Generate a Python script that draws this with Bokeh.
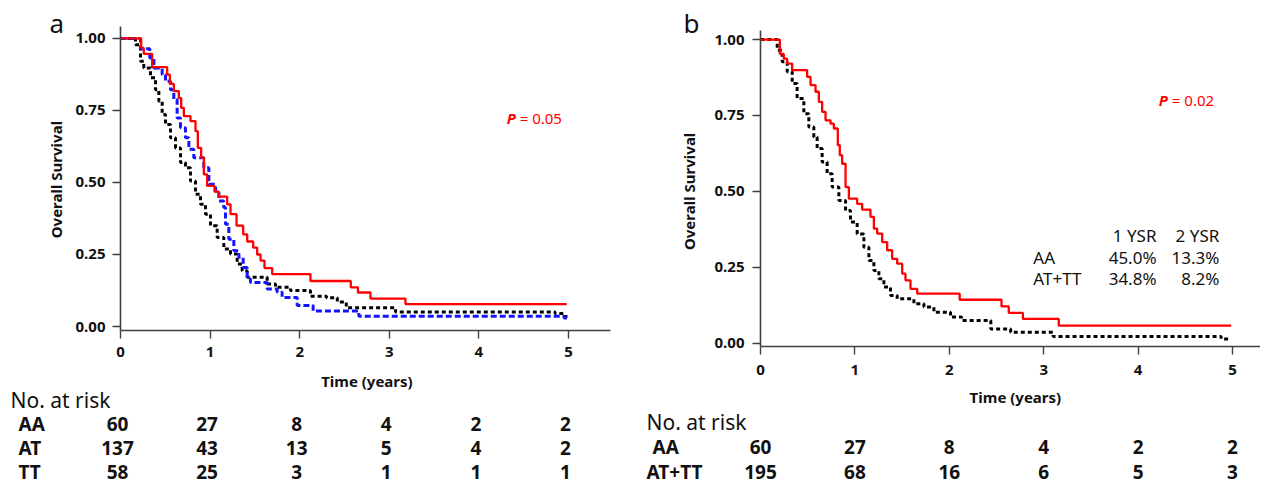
from math import pi
from bokeh.plotting import figure
from bokeh.layouts import row, column
from bokeh.models import (ColumnDataSource, Label, FixedTicker, NumeralTickFormatter, Range1d)
from bokeh.core.properties import value
from bokeh.embed import file_html
from bokeh.resources import INLINE

FONT = "Noto Sans"

# ---------------- Panel a data ----------------
a_aa_t = [0, 0.231, 0.260, 0.353, 0.521, 0.551, 0.595, 0.651, 0.677, 0.707, 0.781, 0.837,
          0.863, 0.900, 0.930, 0.967, 1.049, 1.097, 1.190, 1.228, 1.295, 1.369, 1.414, 1.481,
          1.525, 1.563, 1.607, 1.693, 2.12, 2.57, 2.65, 2.79, 3.18, 4.98]
a_aa_s = [1.0, 0.967, 0.946, 0.900, 0.874, 0.842, 0.817, 0.793, 0.759, 0.730, 0.713, 0.678,
          0.620, 0.586, 0.528, 0.488, 0.468, 0.451, 0.424, 0.390, 0.350, 0.320, 0.295, 0.274,
          0.250, 0.229, 0.203, 0.182, 0.158, 0.136, 0.118, 0.097, 0.078, 0.078]

a_at_t = [0, 0.223, 0.327, 0.372, 0.465, 0.502, 0.558, 0.595, 0.632, 0.670, 0.725, 0.763,
          0.818, 0.930, 0.986, 1.060, 1.098, 1.153, 1.172, 1.209, 1.265, 1.321, 1.369, 1.414,
          1.451, 1.637, 1.749, 1.804, 1.972, 2.15, 2.66, 4.95, 5.0]
a_at_s = [1.0, 0.964, 0.932, 0.897, 0.874, 0.851, 0.822, 0.788, 0.724, 0.690, 0.655, 0.615,
          0.586, 0.551, 0.494, 0.470, 0.436, 0.413, 0.355, 0.303, 0.263, 0.240, 0.205, 0.165,
          0.153, 0.130, 0.119, 0.101, 0.073, 0.054, 0.036, 0.030, 0.030]

a_tt_t = [0, 0.156, 0.167, 0.223, 0.260, 0.335, 0.391, 0.428, 0.465, 0.502, 0.558, 0.614,
          0.670, 0.725, 0.781, 0.837, 0.893, 0.949, 1.004, 1.079, 1.153, 1.228, 1.302, 1.358,
          1.414, 1.637, 1.730, 1.897, 2.12, 2.30, 2.42, 2.52, 3.07, 4.85, 4.95, 5.0]
a_tt_s = [1.0, 1.0, 0.978, 0.921, 0.897, 0.863, 0.822, 0.782, 0.736, 0.701, 0.655, 0.620,
          0.569, 0.551, 0.505, 0.459, 0.424, 0.390, 0.350, 0.309, 0.269, 0.252, 0.217, 0.194,
          0.171, 0.148, 0.136, 0.125, 0.105, 0.100, 0.085, 0.065, 0.050, 0.045, 0.035, 0.035]

a_risk_groups = ["AA", "AT", "TT"]
a_risk_times = [0, 1, 2, 3, 4, 5]
a_risk_AA = [60, 27, 8, 4, 2, 2]
a_risk_AT = [137, 43, 13, 5, 4, 2]
a_risk_TT = [58, 25, 3, 1, 1, 1]
a_pvalue = "= 0.05"

# ---------------- Panel b data ----------------
b_aa_t = [0, 0.205, 0.247, 0.282, 0.335, 0.494, 0.530, 0.583, 0.618, 0.653, 0.689, 0.742,
          0.777, 0.819, 0.840, 0.865, 0.901, 0.936, 1.024, 1.077, 1.165, 1.201, 1.236, 1.289,
          1.342, 1.395, 1.448, 1.501, 1.536, 1.589, 1.660, 2.11, 2.553, 2.63, 2.78, 3.16, 4.986]
b_aa_s = [1.0, 0.952, 0.937, 0.921, 0.899, 0.877, 0.850, 0.828, 0.795, 0.762, 0.734, 0.723,
          0.707, 0.652, 0.619, 0.591, 0.514, 0.476, 0.459, 0.440, 0.416, 0.377, 0.361, 0.333,
          0.306, 0.278, 0.262, 0.229, 0.207, 0.179, 0.163, 0.143, 0.121, 0.100, 0.080, 0.058,
          0.058]

b_att_t = [0, 0.141, 0.177, 0.230, 0.283, 0.336, 0.388, 0.459, 0.512, 0.565, 0.600, 0.653,
           0.706, 0.759, 0.830, 0.901, 0.953, 1.024, 1.095, 1.148, 1.201, 1.254, 1.307, 1.377,
           1.448, 1.625, 1.731, 1.837, 2.013, 2.13, 2.44, 2.65, 3.10, 4.88, 4.96]
b_att_s = [1.0, 1.0, 0.965, 0.927, 0.894, 0.855, 0.806, 0.756, 0.712, 0.679, 0.641, 0.597,
           0.558, 0.514, 0.470, 0.437, 0.399, 0.360, 0.316, 0.272, 0.239, 0.212, 0.185, 0.157,
           0.146, 0.130, 0.119, 0.102, 0.086, 0.075, 0.047, 0.036, 0.022, 0.014, 0.014]

b_risk_groups = ["AA", "AT+TT"]
b_risk_times = [0, 1, 2, 3, 4, 5]
b_risk_AA = [60, 27, 8, 4, 2, 2]
b_risk_ATTT = [195, 68, 16, 6, 5, 3]
b_pvalue = "= 0.02"

ysr_header = ["1 YSR", "2 YSR"]
ysr_groups = ["AA", "AT+TT"]
ysr_1y = ["45.0%", "34.8%"]
ysr_2y = ["13.3%", "8.2%"]

y_ticks = [0, 0.25, 0.5, 0.75, 1.0]
x_ticks = [0, 1, 2, 3, 4, 5]

RED = "#ff0000"
BLUE = "#1414ff"
BLACK = "#000000"
AXIS = "#404040"
TXT = "#111111"

TOTAL_H = 484
BOTTOM = 40
# panel a geometry (pixels)
A_SIDE, A_PLOT_W, A_BORDER_L = 70, 560, 50
A_FRAME_H = 330
A_PPY, A_PPU = 89.6, 289.0          # px per year, px per survival unit
A_YR = (-0.0138, 1 + 38 / A_PPU)    # frame 0..330
A_YB = (-0.0138, 1.0398)            # axis line extent
# panel b geometry
B_SIDE, B_PLOT_W, B_BORDER_L = 75, 555, 55
B_FRAME_H = 346
B_PPY, B_PPU = 94.4, 303.3
B_YR = (-0.0109, 1 + 39 / B_PPU)    # frame 0..346
B_YB = (-0.0109, 1.0297)


def blank_fig(w, h, xr, yr, bottom=0):
    f = figure(width=w, height=h, output_backend="svg", toolbar_location=None,
               x_range=Range1d(*xr), y_range=Range1d(*yr),
               x_axis_location=None, y_axis_location=None,
               min_border=0, min_border_left=0, min_border_right=0,
               min_border_top=0, min_border_bottom=bottom)
    f.outline_line_color = None
    f.grid.visible = False
    f.background_fill_color = "white"
    f.border_fill_color = "white"
    return f


def side_fig(w, h, xr, yr, letter, lx, ly, ylab_x, ylab_y):
    f = blank_fig(w, h, xr, yr, bottom=BOTTOM)
    f.text(x=[lx], y=[ly], text=[letter], text_font=value(FONT), text_font_size="26px",
           text_baseline="middle", text_align="left", text_color=TXT)
    f.text(x=[ylab_x], y=[ylab_y], text=["Overall Survival"], angle=pi / 2,
           text_font=value(FONT), text_font_size="15px", text_font_style="bold",
           text_baseline="middle", text_align="center", text_color=TXT)
    return f


def plot_fig(w, h, border_l, border_r, xr, yr, yb):
    p = figure(width=w, height=h, output_backend="svg", toolbar_location=None,
               x_range=Range1d(*xr), y_range=Range1d(*yr), min_border=0,
               min_border_left=border_l, min_border_right=border_r,
               min_border_top=0, min_border_bottom=BOTTOM)
    p.outline_line_color = None
    p.grid.visible = False
    p.background_fill_color = "white"
    p.border_fill_color = "white"
    p.xaxis.ticker = FixedTicker(ticks=x_ticks)
    p.yaxis.ticker = FixedTicker(ticks=y_ticks)
    p.yaxis.formatter = NumeralTickFormatter(format="0.00")
    p.yaxis.bounds = yb
    for ax in (p.xaxis[0], p.yaxis[0]):
        ax.axis_line_color = AXIS
        ax.axis_line_width = 1.6
        ax.major_tick_line_color = AXIS
        ax.major_tick_line_width = 1.4
        ax.major_tick_in = 0
        ax.major_tick_out = 8
        ax.minor_tick_line_color = None
        ax.major_label_text_font = FONT
        ax.major_label_text_font_style = "bold"
        ax.major_label_text_font_size = "15px"
        ax.major_label_text_color = TXT
    return p


def risk_fig(w, h, px_per_yr, frame_left, groups, times, rows, title_x, lab_xs,
             xlabel_x, xlabel_y, title_y, row_ys, num_off):
    # x in years (aligned with the plot above), y in pixels from the top of this strip
    xr = (-frame_left / px_per_yr, (w - frame_left) / px_per_yr)
    f = blank_fig(w, h, xr, (h, 0))
    f.text(x=[xlabel_x], y=[xlabel_y], text=["Time (years)"], text_font=value(FONT),
           text_font_size="15px", text_font_style="bold", text_baseline="middle",
           text_align="center", text_color=TXT)
    f.text(x=[title_x], y=[title_y], text=["No. at risk"], text_font=value(FONT),
           text_font_size="21px", text_baseline="middle", text_align="left", text_color=TXT)
    f.text(x=lab_xs, y=row_ys, text=groups, text_font=value(FONT), text_font_size="19px",
           text_font_style="bold", text_baseline="middle", text_align="left", text_color=TXT)
    xs, ys, ts = [], [], []
    for ry, vals in zip(row_ys, rows):
        for t, v in zip(times, vals):
            xs.append(t)
            ys.append(ry)
            ts.append(str(v))
    src = ColumnDataSource(dict(x=xs, y=ys, t=ts))
    f.text(x="x", y="y", text="t", source=src, x_offset=num_off, text_font=value(FONT),
           text_font_size="19px", text_font_style="bold", text_baseline="middle",
           text_align="center", text_color=TXT)
    return f


def p_label(p, x, y, rest):
    p.add_layout(Label(x=x, y=y, text="P", text_font=FONT, text_font_size="15px",
                       text_font_style="bold italic", text_color=RED, text_baseline="middle"))
    p.add_layout(Label(x=x, y=y, x_offset=13, text=rest, text_font=FONT,
                       text_font_size="15px", text_color=RED, text_baseline="middle"))


# ---------------- Panel a ----------------
a_left_px = A_SIDE + A_BORDER_L       # x of the y axis (120)
a_plot_h = A_FRAME_H + BOTTOM
side_a = side_fig(A_SIDE, a_plot_h, (-a_left_px / A_PPY, (A_SIDE - a_left_px) / A_PPY), A_YR,
                  "a", (49 - a_left_px) / A_PPY, (326 - 22) / A_PPU,
                  (55 - a_left_px) / A_PPY, 0.51)
pa = plot_fig(A_PLOT_W, a_plot_h, A_BORDER_L, 20, (0, 490 / A_PPY), A_YR, A_YB)
pa.xaxis.major_label_standoff = 8
pa.yaxis.major_label_standoff = 7
pa.step(a_tt_t, a_tt_s, mode="after", line_color=BLACK, line_width=3, line_dash="4 3")
pa.step(a_at_t, a_at_s, mode="after", line_color=BLUE, line_width=3, line_dash="6 3")
pa.step(a_aa_t, a_aa_s, mode="after", line_color=RED, line_width=2.3)
p_label(pa, 4.31, 0.723, a_pvalue)
ra = risk_fig(A_SIDE + A_PLOT_W, TOTAL_H - a_plot_h, A_PPY, a_left_px, a_risk_groups,
              a_risk_times, [a_risk_AA, a_risk_AT, a_risk_TT], -110 / A_PPY,
              [-102 / A_PPY] * 3, 2.75, 380.5 - a_plot_h, 399 - a_plot_h,
              [423 - a_plot_h, 447 - a_plot_h, 471 - a_plot_h], -3)

# ---------------- Panel b ----------------
b_left_px = B_SIDE + B_BORDER_L       # offset of the y axis inside panel b (130)
b_plot_h = B_FRAME_H + BOTTOM
side_b = side_fig(B_SIDE, b_plot_h, (-b_left_px / B_PPY, (B_SIDE - b_left_px) / B_PPY), B_YR,
                  "b", (683 - 630 - b_left_px) / B_PPY, (342.7 - 22.5) / B_PPU,
                  (688 - 630 - b_left_px) / B_PPY, 0.50)
pb = plot_fig(B_PLOT_W, b_plot_h, B_BORDER_L, 0, (0, 500 / B_PPY), B_YR, B_YB)
pb.xaxis.major_label_standoff = 10
pb.yaxis.major_label_standoff = 8
pb.step(b_att_t, b_att_s, mode="after", line_color=BLACK, line_width=3, line_dash="4 3")
pb.step(b_aa_t, b_aa_s, mode="after", line_color=RED, line_width=2.3)
p_label(pb, 4.22, 0.80, b_pvalue)
for txt, xr in zip(ysr_header, [4.195, 4.86]):
    pb.add_layout(Label(x=xr, y=0.355, text=txt, text_font=FONT, text_font_size="17px",
                        text_align="right", text_baseline="middle", text_color=TXT))
for g, v1, v2, yy in zip(ysr_groups, ysr_1y, ysr_2y, [0.281, 0.212]):
    pb.add_layout(Label(x=2.89, y=yy, text=g, text_font=FONT, text_font_size="17px",
                        text_baseline="middle", text_color=TXT))
    pb.add_layout(Label(x=4.195, y=yy, text=v1, text_font=FONT, text_font_size="17px",
                        text_align="right", text_baseline="middle", text_color=TXT))
    pb.add_layout(Label(x=4.86, y=yy, text=v2, text_font=FONT, text_font_size="17px",
                        text_align="right", text_baseline="middle", text_color=TXT))
rb = risk_fig(B_SIDE + B_PLOT_W, TOTAL_H - b_plot_h, B_PPY, b_left_px, b_risk_groups,
              b_risk_times, [b_risk_AA, b_risk_ATTT], -114 / B_PPY,
              [-108 / B_PPY, -114 / B_PPY], 2.70, 396.5 - b_plot_h, 421 - b_plot_h,
              [446 - b_plot_h, 471 - b_plot_h], 0)

layout = row(column(row(side_a, pa), column(ra)),
             column(row(side_b, pb), column(rb)))
open("out.html", "w").write(file_html(layout, INLINE))
